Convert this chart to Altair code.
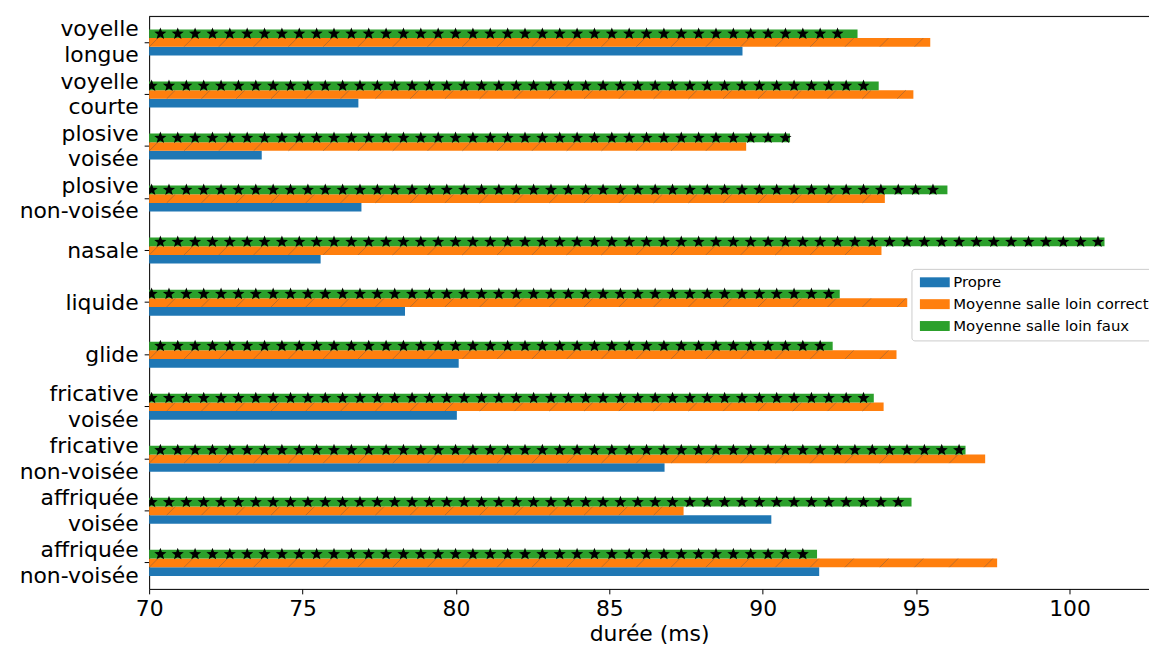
import altair as alt
import pandas as pd
import math

categories = [
    "voyelle\nlongue", "voyelle\ncourte", "plosive\nvoisée", "plosive\nnon-voisée",
    "nasale", "liquide", "glide", "fricative\nvoisée", "fricative\nnon-voisée",
    "affriquée\nvoisée", "affriquée\nnon-voisée",
]
series_names = ["Propre", "Moyenne salle loin correct", "Moyenne salle loin faux"]
propre = [89.34, 76.82, 73.67, 76.92, 75.59, 78.34, 80.09, 80.03, 86.80, 90.28, 91.84]
correct = [95.46, 94.91, 89.46, 93.98, 93.87, 94.71, 94.36, 93.94, 97.25, 87.42, 97.64]
faux = [93.09, 93.78, 90.89, 96.02, 101.14, 92.51, 92.28, 93.62, 96.61, 94.85, 91.77]
colors = ["#1f77b4", "#ff7f0e", "#2ca02c"]
x_ticks = [70, 75, 80, 85, 90, 95, 100]

X_MIN, X_MAX = 70, 102.59
W, H = 1006, 576

rows = []
for c, p, co, f in zip(categories, propre, correct, faux):
    rows.append({"cat": c, "series": series_names[0], "value": p})
    rows.append({"cat": c, "series": series_names[1], "value": co})
    rows.append({"cat": c, "series": series_names[2], "value": f})
df = pd.DataFrame(rows)

# hatch textures (decoration only): star hatch on green, "/" hatch on orange
units_per_px = (X_MAX - X_MIN) / W
star_step = 17.47 * units_per_px
line_step = 35.0 * units_per_px
stars, lines = [], []
for i, c in enumerate(categories):
    ph = (11.3 if i % 2 == 0 else 2.5) * units_per_px
    x = X_MIN + ph
    while x + 3.5 * units_per_px <= faux[i]:
        stars.append({"cat": c, "series": series_names[2], "value": x})
        x += star_step
    ph2 = (4.5 if i % 2 == 0 else 22.0) * units_per_px
    x = X_MIN + ph2
    while x + 4.3 * units_per_px <= correct[i]:
        lines.append({"cat": c, "series": series_names[1], "value": x})
        x += line_step
df_stars = pd.DataFrame(stars)
df_lines = pd.DataFrame(lines)

# 5-point star outline in the [-1, 1] symbol box
pts = []
for k in range(10):
    a = -math.pi / 2 + k * math.pi / 5
    r = 1.0 if k % 2 == 0 else 0.42
    pts.append(f"{r * math.cos(a):.3f},{r * math.sin(a):.3f}")
STAR_PATH = "M" + "L".join(pts) + "Z"

off_domain = [series_names[2], series_names[1], series_names[0]]

y_enc = alt.Y(
    "cat:N",
    sort=categories,
    scale=alt.Scale(paddingInner=0.5, paddingOuter=0.25),
    axis=alt.Axis(
        title=None,
        labelExpr="split(datum.label, '\\n')",
        labelFontSize=22,
        labelLineHeight=26,
        labelColor="black",
        labelPadding=6,
        labelOffset={"condition": {"test": "indexof(datum.label, '\\n') >= 0", "value": -13}, "value": 0},
        tickSize=5,
        tickColor="black",
        domainColor="black",
        labelFont="DejaVu Sans",
    ),
)
x_enc = alt.X(
    "value:Q",
    scale=alt.Scale(domain=[X_MIN, X_MAX], zero=False, nice=False),
    axis=alt.Axis(
        title="durée (ms)",
        orient="bottom",
        values=x_ticks,
        labelFlush=False,
        labelFontSize=22,
        titleFontSize=22,
        titleFontWeight="normal",
        labelColor="black",
        titleColor="black",
        labelPadding=5,
        titlePadding=4,
        tickSize=5,
        tickColor="black",
        domainColor="black",
        grid=False,
        labelFont="DejaVu Sans",
        titleFont="DejaVu Sans",
    ),
)
yoff = alt.YOffset("series:N", scale=alt.Scale(domain=off_domain))

bars = alt.Chart(df).mark_bar(clip=True).encode(
    y=y_enc,
    x=x_enc,
    yOffset=yoff,
    color=alt.Color(
        "series:N",
        scale=alt.Scale(domain=series_names, range=colors),
        legend=alt.Legend(
            title=None,
            orient="none",
            legendX=767,
            legendY=254,
            labelFontSize=15,
            labelFont="DejaVu Sans",
            labelColor="black",
            labelLimit=600,
            symbolType="M-1,-1H5V1H-1Z",
            symbolSize=100,
            symbolStrokeWidth=0,
            labelOffset=21,
            rowPadding=6,
            padding=6,
            strokeColor="#cccccc",
            fillColor="white",
            cornerRadius=3,
        ),
    ),
)

line_layer = alt.Chart(df_lines).mark_point(
    shape="M-1,1L1,-1", filled=False, size=76, color="#8a6040", strokeWidth=0.8, opacity=0.7, clip=True
).encode(y=y_enc, x=x_enc, yOffset=yoff)

star_layer = alt.Chart(df_stars).mark_point(
    shape=STAR_PATH, filled=True, size=165, color="black", opacity=1, strokeWidth=0, clip=True
).encode(y=y_enc, x=x_enc, yOffset=yoff)

frame = alt.Chart(pd.DataFrame({"k": [0]})).mark_rule(color="black", strokeWidth=1).encode(
    x=alt.value(0), x2=alt.value(W), y=alt.value(0)
)

chart = (
    alt.layer(bars, line_layer, star_layer, frame)
    .properties(
        width=W,
        height=H,
        autosize=alt.AutoSizeParams(type="none"),
        padding={"left": 142, "top": 6.5, "right": 0, "bottom": 57.5},
    )
    .configure_view(stroke=None)
    .configure(font="DejaVu Sans")
)

chart.save("out.html", embed_options={"renderer": "svg", "actions": False})
